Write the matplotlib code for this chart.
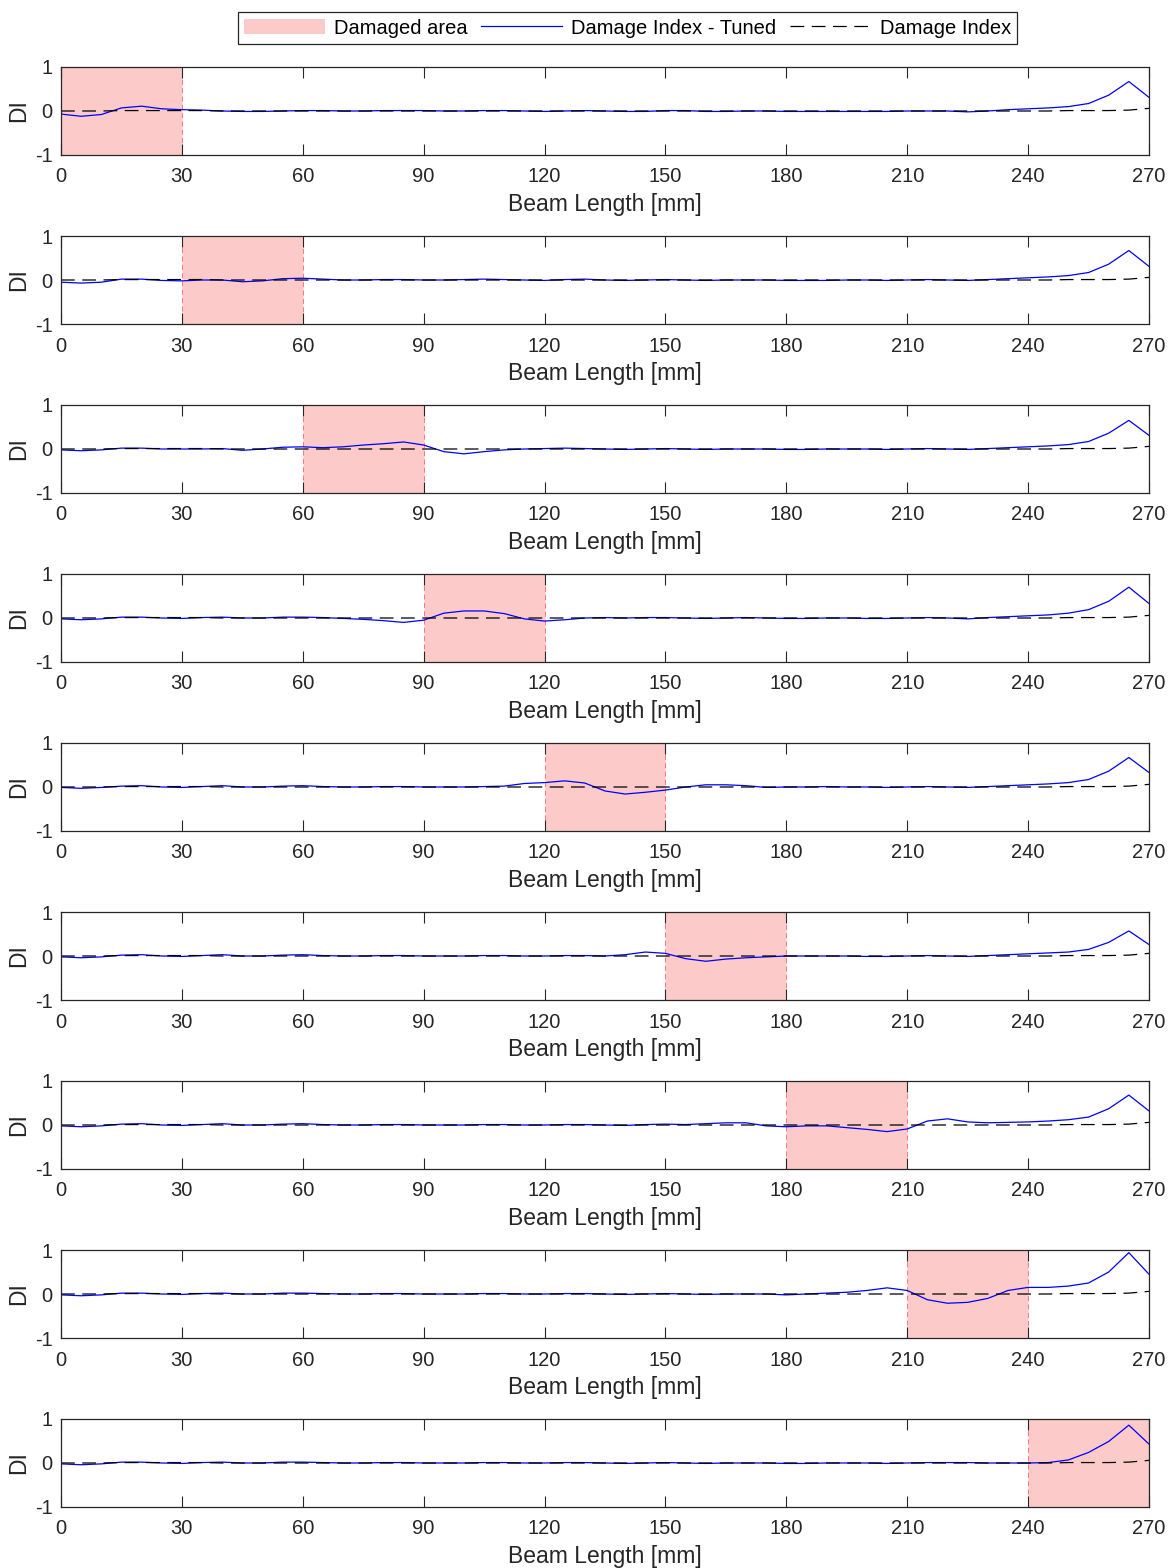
import matplotlib.pyplot as plt
import matplotlib.patches as mpatches
from matplotlib.lines import Line2D

plt.rcParams['font.family'] = ['Liberation Sans', 'DejaVu Sans']
plt.rcParams['axes.unicode_minus'] = False

# beam positions, one reading every 5 mm
beam_x = list(range(0, 275, 5))

# start/end of the damaged zone for each case
damage_zones = [(0, 30), (30, 60), (60, 90), (90, 120), (120, 150),
                (150, 180), (180, 210), (210, 240), (240, 270)]

# plain damage index (almost flat, small rise at the free end)
di_plain = [0.0, 0.0, 0.0, 0.01, 0.01, 0.01, 0.01, 0.01, 0.0, 0.0,
            0.0, 0.0, 0.0, 0.0, 0.0, 0.0, 0.0, 0.0, 0.0, 0.0,
            0.0, 0.0, 0.0, 0.0, 0.0, 0.0, 0.0, 0.0, 0.0, 0.0,
            0.0, 0.0, 0.0, 0.0, 0.0, 0.0, 0.0, 0.0, 0.0, 0.0,
            0.0, 0.0, 0.0, 0.0, 0.0, 0.0, 0.0, 0.0, 0.0, 0.0,
            0.01, 0.01, 0.01, 0.02, 0.06]

# tuned damage index, one list per damage case
tuned_1 = [-0.07, -0.12, -0.08, 0.07, 0.11, 0.05, 0.03, 0.02, 0.0, -0.01,
           -0.01, 0.0, 0.01, 0.01, 0.0, 0.0, 0.01, 0.01, 0.01, 0.0,
           0.0, 0.01, 0.01, 0.0, -0.01, 0.0, 0.01, 0.0, -0.01, -0.01,
           0.01, 0.01, -0.01, -0.01, 0.0, 0.0, -0.01, -0.01, -0.01, -0.01,
           -0.01, -0.01, 0.0, 0.0, 0.0, -0.02, 0.0, 0.03, 0.05, 0.07,
           0.10, 0.17, 0.36, 0.67, 0.31]
tuned_2 = [-0.05, -0.07, -0.05, 0.02, 0.02, -0.01, -0.02, 0.0, 0.0, -0.04,
           -0.02, 0.03, 0.04, 0.02, 0.0, 0.0, 0.01, 0.01, 0.0, 0.0,
           0.01, 0.02, 0.01, 0.0, -0.01, 0.01, 0.02, 0.0, -0.01, 0.0,
           0.01, 0.0, -0.01, 0.0, 0.0, 0.0, -0.01, -0.01, -0.01, 0.0,
           0.0, -0.01, 0.0, 0.01, 0.0, -0.01, 0.01, 0.03, 0.05, 0.07,
           0.10, 0.17, 0.36, 0.67, 0.31]
tuned_3 = [-0.02, -0.04, -0.02, 0.02, 0.02, 0.0, 0.0, 0.0, 0.01, -0.03,
           0.0, 0.04, 0.05, 0.03, 0.05, 0.09, 0.12, 0.16, 0.09, -0.06,
           -0.11, -0.06, -0.02, 0.0, 0.01, 0.02, 0.01, 0.0, -0.01, 0.0,
           0.01, 0.0, -0.01, 0.0, 0.0, 0.0, -0.01, -0.01, 0.0, 0.0,
           0.0, -0.01, 0.0, 0.01, 0.0, -0.01, 0.01, 0.03, 0.05, 0.07,
           0.10, 0.17, 0.36, 0.65, 0.31]
tuned_4 = [-0.02, -0.04, -0.02, 0.02, 0.02, 0.0, -0.01, 0.01, 0.02, 0.0,
           0.0, 0.02, 0.02, 0.01, -0.01, -0.03, -0.06, -0.10, -0.05, 0.11,
           0.16, 0.16, 0.10, -0.02, -0.07, -0.04, 0.0, 0.01, 0.0, 0.01,
           0.01, 0.0, -0.01, 0.0, 0.01, 0.0, -0.01, -0.01, 0.0, 0.0,
           -0.01, -0.01, 0.0, 0.01, 0.0, -0.02, 0.01, 0.03, 0.05, 0.07,
           0.11, 0.19, 0.38, 0.70, 0.33]
tuned_5 = [-0.01, -0.03, -0.01, 0.02, 0.03, 0.0, -0.01, 0.01, 0.03, 0.0,
           0.0, 0.02, 0.03, 0.01, 0.0, 0.0, 0.01, 0.01, 0.0, 0.0,
           0.0, 0.01, 0.02, 0.08, 0.10, 0.14, 0.09, -0.09, -0.16, -0.12,
           -0.07, 0.0, 0.05, 0.05, 0.03, -0.01, 0.0, 0.0, 0.01, 0.0,
           0.0, -0.01, 0.0, 0.01, 0.0, -0.01, 0.01, 0.03, 0.05, 0.07,
           0.10, 0.17, 0.36, 0.67, 0.33]
tuned_6 = [-0.02, -0.04, -0.02, 0.02, 0.03, 0.0, -0.01, 0.01, 0.03, 0.0,
           0.0, 0.02, 0.03, 0.01, 0.0, 0.0, 0.01, 0.01, 0.0, 0.0,
           0.0, 0.01, 0.01, 0.0, 0.0, 0.01, 0.01, 0.0, 0.03, 0.09,
           0.06, -0.06, -0.12, -0.07, -0.04, -0.02, 0.0, 0.0, 0.0, 0.0,
           -0.01, -0.01, 0.0, 0.01, 0.0, -0.01, 0.01, 0.03, 0.05, 0.07,
           0.09, 0.15, 0.31, 0.57, 0.26]
tuned_7 = [-0.02, -0.04, -0.02, 0.02, 0.03, 0.0, -0.01, 0.01, 0.03, 0.0,
           0.0, 0.02, 0.03, 0.01, 0.0, 0.0, 0.01, 0.01, 0.0, 0.0,
           0.0, 0.01, 0.01, 0.0, 0.0, 0.01, 0.01, 0.0, -0.01, 0.01,
           0.02, 0.01, 0.03, 0.05, 0.05, -0.02, -0.04, -0.02, -0.02, -0.06,
           -0.10, -0.15, -0.09, 0.09, 0.14, 0.07, 0.05, 0.06, 0.07, 0.09,
           0.12, 0.18, 0.37, 0.68, 0.32]
tuned_8 = [-0.02, -0.04, -0.02, 0.02, 0.02, 0.0, -0.01, 0.01, 0.02, 0.0,
           0.0, 0.02, 0.02, 0.01, 0.0, 0.0, 0.01, 0.01, 0.0, 0.0,
           0.0, 0.01, 0.01, 0.0, 0.0, 0.01, 0.01, 0.0, -0.01, 0.0,
           0.01, 0.0, -0.01, 0.0, 0.0, 0.0, -0.02, 0.0, 0.02, 0.04,
           0.08, 0.14, 0.08, -0.13, -0.21, -0.19, -0.10, 0.08, 0.15, 0.15,
           0.18, 0.25, 0.50, 0.94, 0.45]
tuned_9 = [-0.02, -0.04, -0.02, 0.02, 0.02, 0.0, -0.01, 0.01, 0.02, 0.0,
           0.0, 0.02, 0.02, 0.01, 0.0, 0.0, 0.01, 0.01, 0.0, 0.0,
           0.0, 0.01, 0.01, 0.0, 0.0, 0.01, 0.01, 0.0, -0.01, 0.0,
           0.01, 0.0, -0.01, 0.0, 0.0, 0.0, -0.01, -0.01, 0.0, 0.0,
           0.0, -0.01, 0.0, 0.01, 0.01, 0.01, 0.0, 0.0, 0.0, 0.01,
           0.07, 0.24, 0.49, 0.86, 0.43]
tuned_all = [tuned_1, tuned_2, tuned_3, tuned_4, tuned_5,
             tuned_6, tuned_7, tuned_8, tuned_9]

x_ticks = [0, 30, 60, 90, 120, 150, 180, 210, 240, 270]
y_ticks = [-1, 0, 1]

W, H = 1176, 1568
fig = plt.figure(figsize=(W / 100, H / 100), dpi=100)

ax_left, ax_right = 61, 1149
ax_w = ax_right - ax_left
ax_h = 88
edge = '#262626'
fill_col = '#fdcaca'

for k, (tuned, zone) in enumerate(zip(tuned_all, damage_zones)):
    top = 67 + k * 169.0
    ax = fig.add_axes([ax_left / W, 1 - (top + ax_h) / H, ax_w / W, ax_h / H])
    ax.axvspan(zone[0], zone[1], facecolor=fill_col, edgecolor='#ff6666',
               linewidth=0.6, linestyle=(0, (6, 4)), zorder=1)
    ax.plot(beam_x, tuned, color='#0000ff', lw=0.9, zorder=3)
    ax.plot(beam_x, di_plain, color='black', lw=0.9,
            linestyle=(0, (11, 6)), zorder=4)
    ax.set_xlim(0, 270)
    ax.set_ylim(-1, 1)
    ax.set_xticks(x_ticks)
    ax.set_yticks(y_ticks)
    ax.tick_params(axis='x', direction='in', length=8, width=0.8,
                   top=True, colors=edge, labelsize=14.5, pad=9)
    ax.tick_params(axis='y', direction='in', length=0,
                   colors=edge, labelsize=14.5, pad=6)
    for s in ax.spines.values():
        s.set_color(edge)
        s.set_linewidth(0.9)
        s.set_zorder(5)
    ax.set_xlabel('Beam Length [mm]', fontsize=16.5, color=edge, labelpad=5)
    ax.set_ylabel('DI', fontsize=16.5, color=edge)
    ax.yaxis.set_label_coords((30 - ax_left) / ax_w, 0.5)

handles = [
    mpatches.Patch(facecolor=fill_col, edgecolor='none', label='Damaged area'),
    Line2D([], [], color='#0000ff', lw=0.9, label='Damage Index - Tuned'),
    Line2D([], [], color='black', lw=0.9, linestyle=(0, (11, 6)),
           label='Damage Index'),
]
leg = fig.legend(handles=handles, loc='center', ncol=3,
                 bbox_to_anchor=(627.5 / W, 1 - 28 / H), fontsize=14.5,
                 frameon=True, fancybox=False, framealpha=1,
                 handlelength=4.0, handletextpad=0.45, columnspacing=0.7,
                 borderpad=0.3, borderaxespad=0)
leg.get_frame().set_edgecolor(edge)
leg.get_frame().set_linewidth(0.9)

fig.savefig('out.png', dpi=100)
